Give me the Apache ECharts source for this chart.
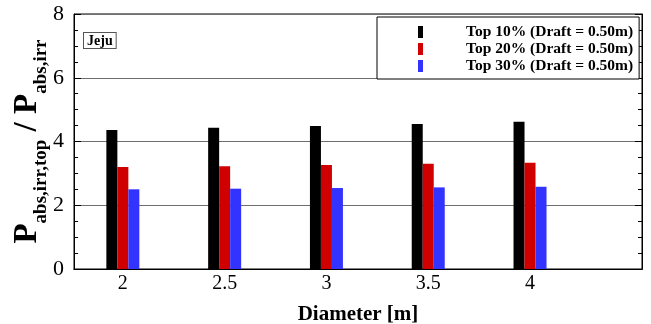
<!DOCTYPE html>
<html>
<head>
<meta charset="UTF-8">
<title>Jeju</title>
<script src="https://cdn.jsdelivr.net/npm/echarts@6/dist/echarts.min.js"></script>
<style>
html, body { margin: 0; padding: 0; background: #fff; }
#main { width: 651px; height: 324px; }
</style>
</head>
<body>
<div id="main"></div>
<script>
// diameter [m] and ratio for each "top %" case
var diameters = [2, 2.5, 3, 3.5, 4];
var top10 = [4.36, 4.43, 4.49, 4.55, 4.62];
var top20 = [3.20, 3.22, 3.26, 3.30, 3.33];
var top30 = [2.50, 2.52, 2.54, 2.56, 2.58];
var names = ['Top 10% (Draft = 0.50m)', 'Top 20% (Draft = 0.50m)', 'Top 30% (Draft = 0.50m)'];
var colors = ['#000000', '#d00000', '#3333ff'];

var serif = '"Liberation Serif", "DejaVu Serif", serif';

function pairs(vals) {
	return diameters.map(function (d, i) { return [d, vals[i]]; });
}

var myChart = echarts.init(document.getElementById('main'));

myChart.setOption({
	animation: false,
	grid: {
		left: 74, right: 9, top: 14, bottom: 55,
		outerBoundsMode: 'none',
		show: true, borderColor: '#000', borderWidth: 1
	},
	legend: {
		orient: 'vertical',
		left: 377, top: 17,
		padding: [7, 6, 5, 41],
		itemWidth: 5, itemHeight: 12, itemGap: 1,
		borderColor: '#000', borderWidth: 1,
		backgroundColor: '#fff',
		icon: 'rect',
		data: names,
		formatter: function (n) { return '{g|}{t|' + n + '}'; },
		textStyle: {
			rich: {
				g: { width: 38 },
				t: { fontFamily: serif, fontWeight: 'bold', fontSize: 15.5, lineHeight: 17, color: '#000' }
			}
		}
	},
	graphic: [{
		type: 'text',
		left: 83, top: 32,
		style: {
			text: 'Jeju',
			font: 'bold 14px ' + serif,
			fill: '#000',
			borderColor: '#555', borderWidth: 1,
			padding: [1, 3, 0, 3],
			backgroundColor: '#fff'
		}
	}],
	xAxis: [{
		type: 'value',
		min: 1.76, max: 4.55,
		name: 'Diameter [m]',
		nameLocation: 'middle',
		nameGap: 35,
		nameTextStyle: { fontFamily: serif, fontWeight: 'bold', fontSize: 21, color: '#000' },
		axisLine: { lineStyle: { color: '#000' } },
		axisTick: { inside: true, length: 6, customValues: diameters, lineStyle: { color: '#000' } },
		axisLabel: {
			customValues: diameters,
			fontFamily: serif, fontSize: 20, color: '#000', margin: 5
		},
		splitLine: { show: false }
	}, {
		// mirrored top axis, ticks only
		type: 'category',
		position: 'top',
		data: diameters,
		boundaryGap: true,
		axisLine: { show: true, lineStyle: { color: '#000' } },
		axisTick: { inside: true, length: 5, alignWithLabel: true, lineStyle: { color: '#000' } },
		axisLabel: { show: false },
		splitLine: { show: false }
	}],
	yAxis: [{
		type: 'value',
		min: 0, max: 8, interval: 2,
		name: '{p|P}{s|abs,irr,top}{p| / P}{s|abs,irr}',
		nameLocation: 'middle',
		nameRotate: 90,
		nameGap: 30,
		nameMoveOverlap: false,
		nameTextStyle: {
			color: '#000',
			rich: {
				p: { fontFamily: serif, fontWeight: 'bold', fontSize: 33, color: '#000', verticalAlign: 'bottom', lineHeight: 34 },
				s: { fontFamily: serif, fontWeight: 'bold', fontSize: 19, color: '#000', verticalAlign: 'bottom', padding: [0, 0, -7, 0], lineHeight: 34 }
			}
		},
		axisLine: { show: true, lineStyle: { color: '#000' } },
		axisTick: { inside: true, length: 7, lineStyle: { color: '#000' } },
		minorTick: { show: true, splitNumber: 4, length: 4, lineStyle: { color: '#000' } },
		axisLabel: { fontFamily: serif, fontSize: 22, color: '#000', margin: 10 },
		splitLine: { lineStyle: { color: '#6e6e6e', width: 1 } }
	}, {
		type: 'value',
		position: 'right',
		min: 0, max: 8, interval: 2,
		axisLine: { show: true, lineStyle: { color: '#000' } },
		axisTick: { inside: true, length: 7, lineStyle: { color: '#000' } },
		minorTick: { show: true, splitNumber: 4, length: 4, lineStyle: { color: '#000' } },
		axisLabel: { show: false },
		splitLine: { show: false }
	}],
	series: [
		{ name: names[0], type: 'bar', data: pairs(top10), barWidth: 11, barGap: '0%', itemStyle: { color: colors[0] } },
		{ name: names[1], type: 'bar', data: pairs(top20), barWidth: 11, barGap: '0%', itemStyle: { color: colors[1] } },
		{ name: names[2], type: 'bar', data: pairs(top30), barWidth: 11, barGap: '0%', itemStyle: { color: colors[2] } }
	]
});
</script>
</body>
</html>
